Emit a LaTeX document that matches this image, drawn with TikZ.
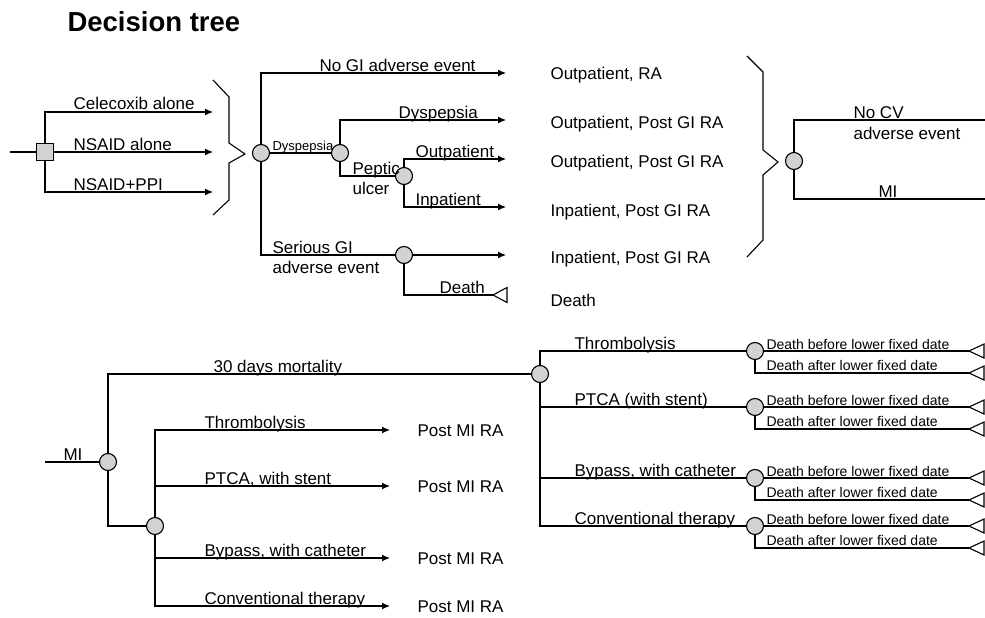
\documentclass[tikz,border=0pt]{standalone}
\usepackage{fontspec}
\setmainfont{Liberation Sans}
\usetikzlibrary{arrows.meta}

\begin{document}
\begin{tikzpicture}[x=1pt, y=-1pt, line width=1.1pt,
chn/.style={draw, circle, fill=gray!35, minimum size=17pt, inner sep=0pt},
dcs/.style={draw, rectangle, fill=gray!35, minimum size=17pt, inner sep=0pt},
myto/.style={-{Latex[length=8pt, width=7pt]}},
lbl/.style={anchor=base west, inner sep=0pt, font=\fontsize{17}{20}\selectfont},
sml/.style={anchor=base west, inner sep=0pt, font=\fontsize{14}{16}\selectfont}
]
\useasboundingbox (0,0) rectangle (985,618);

\node[anchor=base west, inner sep=0pt, font=\fontsize{27.5}{30}\selectfont\bfseries] (ttl) at (67,32) {Decision tree};

% treatment choice
\coordinate (in1) at (10,152);
\node[dcs] (D) at (45,152) {};
\draw (in1) -- (D);
\foreach \n/\y/\t in {1/112/Celecoxib alone, 2/152/NSAID alone, 3/192/NSAID+PPI}{
  \coordinate (a\n) at (213,\y);
  \node[lbl] (la\n) at (73,\y-2) {\t};
}
\draw[myto] (D) |- (a1);
\draw[myto] (D) -- (a2);
\draw[myto] (D) |- (a3);
\draw (213,80) -- (229,97) -- (229,143) -- (245,154) -- (229,163) -- (229,200) -- (213,215);

% GI events
\node[chn] (c1) at (261,153) {};
\node[chn] (c2) at (340,153) {};
\node[chn] (c3) at (404,176) {};
\node[chn] (c4) at (404,255) {};
\coordinate (t0) at (493,295);
\foreach \n/\y in {1/73,2/120,3/159,4/207,5/255}{\coordinate (e\n) at (506,\y);}
\foreach \i/\j in {c1/e1,c2/e2,c3/e3,c3/e4}{\draw[myto] (\i) |- (\j);}
\foreach \i/\j in {c1/c4,c2/c3,c4/t0}{\draw (\i) |- (\j);}
\draw (c1) -- (c2);
\draw[myto] (c4) -- (e5);
\draw[fill=white] (t0) -- ++(14,-7.5) -- ++(0,15) -- cycle;

\node[sml, font=\fontsize{13}{15}\selectfont] (g1) at (272,150) {Dyspepsia};
\node[lbl] (g2) at (319,71) {No GI adverse event};
\node[lbl] (g3) at (398,118) {Dyspepsia};
\node[lbl] (g4) at (352,174) {Peptic};
\node[lbl] (g5) at (352,194) {ulcer};
\node[lbl] (g6) at (415,157) {Outpatient};
\node[lbl] (g7) at (415,205) {Inpatient};
\node[lbl] (g8) at (272,253) {Serious GI};
\node[lbl] (g9) at (272,273) {adverse event};
\node[lbl] (g10) at (439,293) {Death};

\foreach \n/\y/\t in {1/73/{Outpatient, RA},2/122/{Outpatient, Post GI RA},3/161/{Outpatient, Post GI RA},4/210/{Inpatient, Post GI RA},5/257/{Inpatient, Post GI RA},6/300/Death}{
  \node[lbl] (o\n) at (550,\y+6) {\t};
}

% CV events
\draw (747,56) -- (763,72) -- (763,150) -- (778,162) -- (763,175) -- (763,240) -- (747,257);
\node[chn] (c5) at (794,161) {};
\coordinate (r1) at (985,120);
\coordinate (r2) at (985,199);
\draw (c5) |- (r1);
\draw (c5) |- (r2);
\node[lbl] (h1) at (853,118) {No CV};
\node[lbl] (h2) at (853,139) {adverse event};
\node[lbl] (h3) at (878,197) {MI};

% MI subtree
\coordinate (in2) at (45,462);
\node[chn] (m1) at (108,462) {};
\node[chn] (m2) at (155,526) {};
\node[chn] (m3) at (540,374) {};
\draw (in2) -- (m1);
\draw (m1) |- (m3);
\draw (m1) |- (m2);
\node[lbl] (n1) at (63,460) {MI};
\node[lbl] (n2) at (213,372) {30 days mortality};

\foreach \n/\y/\t in {1/430/Thrombolysis,2/486/{PTCA, with stent},3/558/{Bypass, with catheter},4/606/Conventional therapy}{
  \coordinate (b\n) at (390,\y);
  \draw[myto] (m2) |- (b\n);
  \node[lbl] (p\n) at (204,\y-2) {\t};
  \node[lbl] (q\n) at (417,\y+6) {Post MI RA};
}

\foreach \n/\y/\t in {1/351/Thrombolysis,2/407/PTCA (with stent),3/478/{Bypass, with catheter},4/526/Conventional therapy}{
  \node[chn] (k\n) at (755,\y) {};
  \draw (m3) |- (k\n);
  \node[lbl] (s\n) at (574,\y-2) {\t};
  \coordinate (u\n) at (969,\y);
  \coordinate (v\n) at (969,\y+22);
  \draw (k\n) -- (u\n);
  \draw (k\n) |- (v\n);
  \draw[fill=white] (u\n) -- ++(15,-7) -- ++(0,14) -- cycle;
  \draw[fill=white] (v\n) -- ++(15,-7) -- ++(0,14) -- cycle;
  \node[sml] (x\n) at (766,\y-2) {Death before lower fixed date};
  \node[sml] (y\n) at (766,\y+19) {Death after lower fixed date};
}
\end{tikzpicture}
\end{document}
